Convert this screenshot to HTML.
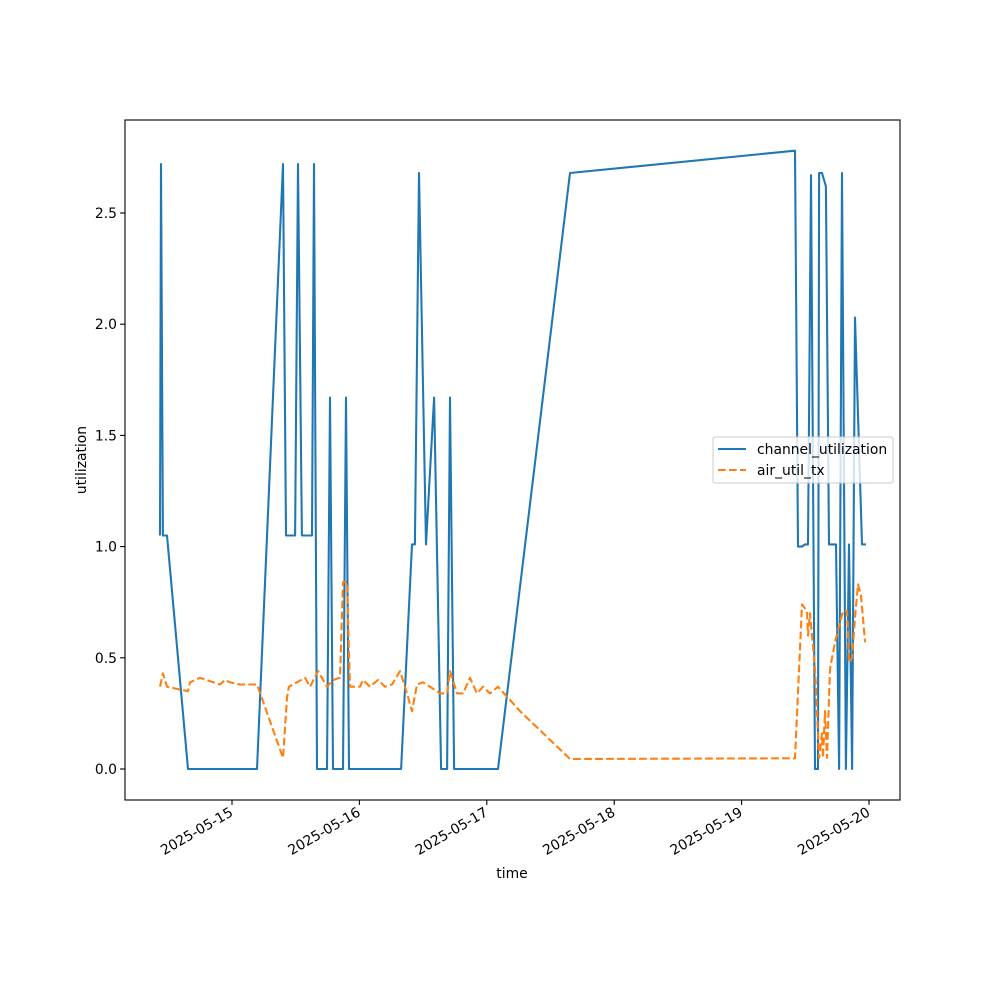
<!DOCTYPE html>
<html><head><meta charset="utf-8"><style>
body{margin:0;background:#fff;font-family:"Liberation Sans","DejaVu Sans",sans-serif;}
svg text{font-family:"DejaVu Sans","Liberation Sans",sans-serif;font-size:13.9px;fill:#000;}
</style></head><body>
<svg id="chart" width="1000" height="1000" xmlns="http://www.w3.org/2000/svg">
<rect width="1000" height="1000" fill="#fff"/>
<g id="plot"></g>
</svg>
<script>
// days since 2025-05-15 00:00
const chanDays=[-0.565,-0.557,-0.542,-0.510,-0.345,0.196,0.400,0.424,0.495,0.518,0.549,0.628,0.644,0.667,0.746,0.769,0.793,0.871,0.895,0.918,1.327,1.413,1.436,1.468,1.523,1.586,1.641,1.688,1.711,1.743,2.088,2.653,4.419,4.443,4.474,4.498,4.521,4.545,4.576,4.600,4.608,4.631,4.662,4.686,4.741,4.765,4.788,4.819,4.843,4.867,4.890,4.945,4.976];
const chanVals=[1.05,2.72,1.05,1.05,0,0,2.72,1.05,1.05,2.72,1.05,1.05,2.72,0,0,1.67,0,0,1.67,0,0,1.01,1.01,2.68,1.01,1.67,0,0,1.67,0,0,2.68,2.78,1.0,1.0,1.01,1.01,2.67,0,0,2.68,2.68,2.62,1.01,1.01,0,2.68,0,1.01,0,2.03,1.01,1.01];
const airDays=[-0.565,-0.542,-0.510,-0.345,-0.330,-0.251,-0.094,-0.055,-0.016,0.063,0.196,0.400,0.432,0.447,0.510,0.573,0.612,0.675,0.746,0.793,0.848,0.871,0.903,0.926,1.005,1.028,1.083,1.146,1.201,1.256,1.319,1.374,1.413,1.452,1.499,1.554,1.633,1.688,1.711,1.766,1.813,1.868,1.923,1.970,2.025,2.088,2.261,2.653,4.419,4.474,4.513,4.521,4.537,4.576,4.608,4.631,4.639,4.655,4.670,4.694,4.733,4.772,4.796,4.827,4.843,4.867,4.890,4.914,4.937,4.969];
const airVals=[0.37,0.43,0.37,0.35,0.39,0.41,0.38,0.40,0.39,0.38,0.38,0.05,0.32,0.37,0.39,0.41,0.37,0.44,0.37,0.40,0.41,0.84,0.84,0.37,0.37,0.40,0.37,0.40,0.37,0.38,0.44,0.34,0.26,0.38,0.39,0.37,0.34,0.34,0.44,0.34,0.34,0.41,0.34,0.37,0.34,0.37,0.26,0.045,0.048,0.74,0.71,0.60,0.70,0.45,0.05,0.16,0.05,0.26,0.05,0.45,0.57,0.66,0.71,0.71,0.48,0.50,0.68,0.83,0.78,0.57];
const yTicks=[0,0.5,1.0,1.5,2.0,2.5];
const yTickLabels=["0.0","0.5","1.0","1.5","2.0","2.5"];
const xTicks=[0,1,2,3,4,5];
const xTickLabels=["2025-05-15","2025-05-16","2025-05-17","2025-05-18","2025-05-19","2025-05-20"];

const L=125,R=900,T=120,B=800;
const xs=d=>232+d*127.4;
const ys=v=>769-v*222.4;
const NS="http://www.w3.org/2000/svg";
const g=document.getElementById('plot');
function mk(t,a,p){const e=document.createElementNS(NS,t);for(const k in a)e.setAttribute(k,a[k]);(p||g).appendChild(e);return e;}

function line(days,vals,color,dash,name){
  const pts=days.map((d,i)=>xs(d).toFixed(1)+','+ys(vals[i]).toFixed(1)).join(' ');
  const a={points:pts,fill:'none',stroke:color,'stroke-width':2.08,'stroke-linejoin':'round'};
  if(dash)a['stroke-dasharray']=dash;
  const e=mk('polyline',a);
  
  
}
line(chanDays,chanVals,'#1f77b4',null,'channel-utilization-line');
line(airDays,airVals,'#ff7f0e','7.7,3.3','air-util-tx-line');

const frame=mk('rect',{x:L,y:T,width:R-L,height:B-T,fill:'none',stroke:'#000','stroke-width':1.1});



yTicks.forEach((v,i)=>{
  const y=ys(v);
  mk('line',{x1:L-4.9,x2:L,y1:y,y2:y,stroke:'#000','stroke-width':1.1});
  const t=mk('text',{x:L-8,y:y+5,'text-anchor':'end'});t.textContent=yTickLabels[i];
  
  
});
xTicks.forEach((d,i)=>{
  const x=xs(d);
  mk('line',{x1:x,x2:x,y1:B,y2:B+4.9,stroke:'#000','stroke-width':1.1});
  const t=mk('text',{x:x+2,y:B+15,'text-anchor':'end',transform:`rotate(-30 ${x+2} ${B+15})`});
  t.textContent=xTickLabels[i];
  
  
});
const xl=mk('text',{x:512,y:878,'text-anchor':'middle'});xl.textContent='time';


const yl=mk('text',{x:86,y:460,'text-anchor':'middle',transform:'rotate(-90 86 460)'});yl.textContent='utilization';



const lg=mk('g',{});


mk('rect',{x:713,y:437,width:180,height:46,rx:2,fill:'#fff','fill-opacity':0.8,stroke:'#ccc','stroke-width':1},lg);
mk('line',{x1:718,x2:746,y1:449,y2:449,stroke:'#1f77b4','stroke-width':2.08},lg);
mk('line',{x1:718,x2:746,y1:470,y2:470,stroke:'#ff7f0e','stroke-width':2.08,'stroke-dasharray':'7.7,3.3'},lg);
const l1=mk('text',{x:757,y:454},lg);l1.textContent='channel_utilization';


const l2=mk('text',{x:757,y:475},lg);l2.textContent='air_util_tx';


</script>
</body></html>
